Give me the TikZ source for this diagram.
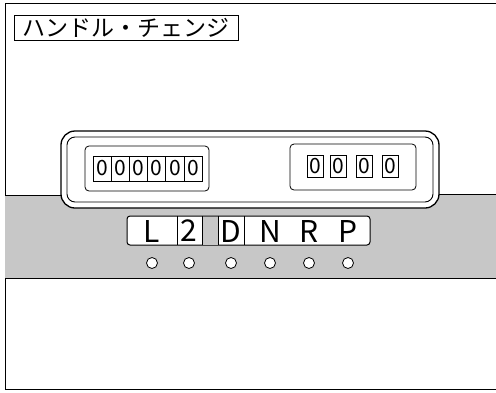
\documentclass[tikz,border=0pt]{standalone}
\usepackage{fontspec}
\newfontfamily\jpfont{Noto Sans CJK JP}
\tikzset{
	digit/.style={draw, line width=0.8pt, fill=white, inner sep=0pt, font=\jpfont\fontsize{21}{21}\selectfont},
	gear/.style={inner sep=0pt, font=\jpfont\fontsize{30}{30}\selectfont},
	lamp/.style={draw=black, fill=white, line width=0.8pt},
}
\begin{document}
\begin{tikzpicture}[x=1pt, y=-1pt]
	\useasboundingbox (0,0) rectangle (496,392);
	% frame
	\draw[line width=1pt] (496,3) -- (5,3) -- (5,389) -- (496,389);
	\node[draw, line width=0.8pt, minimum width=224pt, minimum height=25pt, inner sep=0pt,
		font=\jpfont\fontsize{23}{23}\selectfont] (title) at (126,27.5) {ハンドル・チェンジ};
	
	% shaded band
	\fill[black!22] (5,195) rectangle (496,278);
	\draw[line width=0.8pt] (5,195) -- (62,195);
	\draw[line width=0.8pt] (438,194) -- (496,194);
	\draw[line width=0.8pt] (5,278) -- (496,278);
	
	% panel
	\filldraw[fill=white, line width=1.3pt, rounded corners=14pt] (61,131) rectangle (439,208);
	\draw[line width=0.9pt, rounded corners=8pt] (67,137) rectangle (433,202);
	\draw[line width=0.8pt, rounded corners=4pt] (85,146) rectangle (209,191);
	\draw[line width=0.8pt, rounded corners=4pt] (290,144) rectangle (416,190);
	
	\foreach \i in {1,...,6}{
		\node[digit, minimum width=18.2pt, minimum height=25pt] (a\i) at ({93+18.2*(\i-0.5)},168.5) {0};
	}
	\foreach \x [count=\i] in {315,338.5,364.5,390.5}{
		\node[digit, minimum width=16pt, minimum height=22pt] (b\i) at (\x,166) {0};
	}
	
	% selector
	\filldraw[fill=white, line width=1pt, rounded corners=3pt] (127,216) rectangle (370,245);
	\fill[black!22] (202,216.5) rectangle (218,244.5);
	\foreach \x in {177,202,218,244}{
		\draw[line width=0.8pt] (\x,216) -- (\x,245);
	}
	\foreach \t/\x [count=\i] in {L/152,2/189,D/231,N/270,R/309,P/348}{
		\node[gear] (g\i) at (\x,231) {\t};
		\draw[lamp] (\x,263) circle (5.5pt);
	}
\end{tikzpicture}
\end{document}
